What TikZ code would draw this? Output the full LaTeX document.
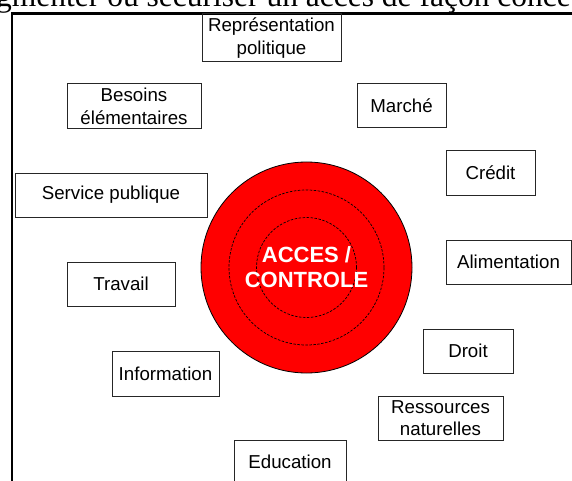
\documentclass[tikz,border=0pt]{standalone}
\usepackage{fontspec}
\setmainfont{Liberation Sans}
\newfontfamily\headfont{Liberation Serif}
\usepackage{tikz}
\usetikzlibrary{positioning}

\begin{document}
\begin{tikzpicture}[
            x=1pt, y=-1pt,
            box/.style={draw=black!85, line width=1pt, inner sep=0pt, align=center,
                font=\fontsize{18.7}{22.5}\selectfont},
            ring/.style={draw=black, dash pattern=on 2.5pt off 1.5pt, line width=0.7pt},
            core/.style={font=\fontsize{22}{25}\selectfont\bfseries, text=white, align=center}
        ]
            \useasboundingbox (0,0) rectangle (572,481);
            \clip (0,0) rectangle (572,481);
            % heading, cut by the page
            \node[anchor=base west, inner sep=0pt, font=\headfont\fontsize{31.5}{31.5}\selectfont]
                (head) at (-4,6.5) {gmenter ou sécuriser un accès de façon conce};
            % frame
            \draw[line width=2.5pt] (12,481) -- (12,13.5) -- (572,13.5);
            % target
            \node[circle, draw=black, line width=0.8pt, fill=red, minimum size=211pt, inner sep=0pt]
                (target) at (306.5,267.5) {};
            \node[circle, ring, minimum size=155pt, inner sep=0pt] (mid) at (target.center) {};
            \node[circle, ring, minimum size=100pt, inner sep=0pt] (inner) at (target.center) {};
            \node[core] (acces) at (306.5,267) {ACCES /\\CONTROLE};
            % resources around
            \node[box, minimum width=139, minimum height=48] (repr) at (271.5,38) {Représentation\\politique};
            \node[box, minimum width=134, minimum height=45] (besoins) at (134,106.5) {Besoins\\élémentaires};
            \node[box, minimum width=89, minimum height=44] (marche) at (401.5,106) {Marché};
            \node[box, minimum width=89, minimum height=44] (credit) at (490.5,173) {Crédit};
            \node[box, minimum width=192, minimum height=44] (service) at (111,195) {Service publique};
            \node[box, minimum width=125, minimum height=44] (alim) at (508.5,262) {Alimentation};
            \node[box, minimum width=108, minimum height=44] (travail) at (121,284) {Travail};
            \node[box, minimum width=90, minimum height=44] (droit) at (468,351) {Droit};
            \node[box, minimum width=107, minimum height=45] (info) at (165.5,373.5) {Information};
            \node[box, minimum width=125, minimum height=44] (ress) at (440.5,418) {Ressources\\naturelles};
            \node[box, minimum width=112, minimum height=44] (educ) at (290,462) {Education};
        \end{tikzpicture}
\end{document}
